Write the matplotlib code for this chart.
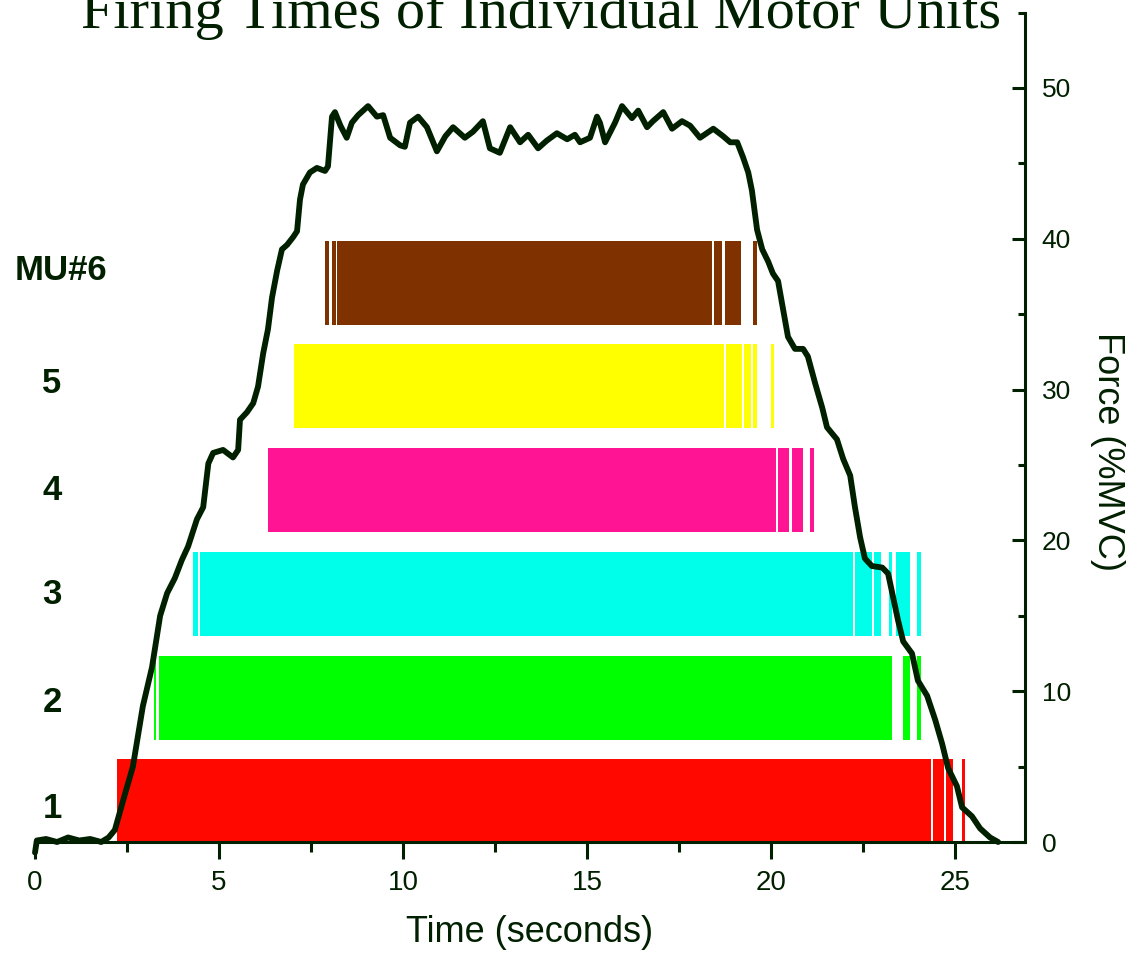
import matplotlib
matplotlib.use("Agg")
import matplotlib.pyplot as plt
from matplotlib.ticker import MultipleLocator
from matplotlib.transforms import blended_transform_factory

# ---------------- data ----------------
time_s = [
    0.0, 0.05, 0.3, 0.6, 0.9, 1.2, 1.5, 1.8, 2.0, 2.17,
    2.4, 2.66, 2.93, 3.18, 3.40, 3.59, 3.80, 3.99, 4.16, 4.40,
    4.57, 4.71, 4.84, 5.11, 5.38, 5.52, 5.57, 5.76, 5.93, 6.06,
    6.20, 6.33, 6.44, 6.58, 6.71, 6.85, 7.01, 7.12, 7.20, 7.28,
    7.47, 7.66, 7.88, 7.96, 8.07, 8.15, 8.30, 8.47, 8.61, 8.78,
    9.05, 9.29, 9.46, 9.65, 9.92, 10.05, 10.19, 10.41, 10.65, 10.92,
    11.15, 11.36, 11.68, 11.90, 12.17, 12.36, 12.63, 12.91, 13.18, 13.40,
    13.67, 13.90, 14.18, 14.46, 14.67, 14.81, 15.08, 15.27, 15.35, 15.49,
    15.76, 15.95, 16.22, 16.39, 16.63, 16.79, 17.07, 17.31, 17.58, 17.80,
    18.07, 18.43, 18.70, 18.89, 19.08, 19.24, 19.38, 19.48, 19.62, 19.76,
    19.92, 20.05, 20.19, 20.33, 20.46, 20.65, 20.87, 21.00, 21.20, 21.39,
    21.52, 21.79, 21.96, 22.15, 22.28, 22.42, 22.55, 22.74, 23.02, 23.18,
    23.32, 23.45, 23.59, 23.83, 23.99, 24.24, 24.46, 24.65, 24.81, 25.05,
    25.19, 25.46, 25.68, 25.95, 26.17,
]
force_mvc = [
    -0.7, 0.1, 0.2, 0.0, 0.3, 0.1, 0.2, 0.0, 0.3, 0.8,
    2.8, 5.0, 9.0, 11.6, 15.0, 16.5, 17.5, 18.7, 19.6, 21.4,
    22.2, 25.1, 25.8, 26.0, 25.5, 26.0, 28.0, 28.5, 29.1, 30.2,
    32.4, 34.0, 36.1, 37.9, 39.3, 39.6, 40.1, 40.5, 42.6, 43.6,
    44.4, 44.7, 44.5, 44.8, 48.1, 48.4, 47.5, 46.7, 47.7, 48.2,
    48.8, 48.1, 48.2, 46.7, 46.2, 46.1, 47.7, 48.1, 47.4, 45.8,
    46.8, 47.4, 46.7, 47.1, 47.8, 46.0, 45.7, 47.4, 46.4, 46.9,
    46.0, 46.5, 47.0, 46.6, 46.9, 46.4, 46.7, 48.1, 47.7, 46.4,
    47.7, 48.8, 48.0, 48.5, 47.4, 47.8, 48.4, 47.3, 47.8, 47.5,
    46.7, 47.3, 46.8, 46.4, 46.4, 45.4, 44.4, 43.2, 40.6, 39.3,
    38.5, 37.7, 37.2, 35.3, 33.5, 32.7, 32.7, 32.2, 30.4, 28.8,
    27.5, 26.7, 25.4, 24.3, 22.2, 20.2, 18.8, 18.3, 18.2, 17.8,
    16.2, 14.7, 13.3, 12.5, 10.7, 9.7, 8.1, 6.5, 4.9, 3.7,
    2.3, 1.7, 0.9, 0.3, 0.0,
]

mu_labels = ["1", "2", "3", "4", "5", "MU#6"]
mu_colors = ["#ff0800", "#00ff00", "#00ffea", "#ff1493", "#ffff00", "#7f3200"]

# firing periods (start, end) in seconds
mu1_firing = [(2.23, 24.35), (24.40, 24.70), (24.76, 24.95), (25.19, 25.27)]
mu2_firing = [(3.23, 3.30), (3.37, 23.29), (23.59, 23.78), (23.97, 24.08)]
mu3_firing = [(4.29, 4.43), (4.48, 22.23), (22.28, 22.74), (22.80, 22.99),
              (23.21, 23.29), (23.40, 23.78), (23.97, 24.08)]
mu4_firing = [(6.33, 20.14), (20.19, 20.49), (20.57, 20.87), (21.06, 21.17)]
mu5_firing = [(7.04, 18.72), (18.78, 19.21), (19.27, 19.46), (19.51, 19.62),
              (20.00, 20.08)]
mu6_firing = [(7.88, 7.99), (8.07, 8.18), (8.21, 18.40), (18.45, 18.67),
              (18.75, 19.18), (19.51, 19.62)]
mu_firing = [mu1_firing, mu2_firing, mu3_firing, mu4_firing, mu5_firing, mu6_firing]

# ---------------- style ----------------
DARK = "#002000"
FONT = "Liberation Sans"
W, H = 1128, 957

fig = plt.figure(figsize=(W / 100, H / 100), dpi=100)
fig.patch.set_facecolor("white")

force_max = 55.0
px_per_force = 15.08
ax_h_px = force_max * px_per_force
ax = fig.add_axes([35 / W, 1 - 842 / H, 990 / W, ax_h_px / H])
ax.set_xlim(0, 26.9)

# unit-row axis: row i centred at force 2.7 + 6.88*(i-1)
row_force0, row_step = 2.7, 6.88
ax.set_ylim(1 - row_force0 / row_step, 1 + (force_max - row_force0) / row_step)

bar_h = 0.81
for i, (segs, col) in enumerate(zip(mu_firing, mu_colors)):
    row = i + 1
    ax.broken_barh([(s, e - s) for s, e in segs], (row - bar_h / 2, bar_h),
                   facecolors=col, edgecolor="none", zorder=2)

# row labels
label_y = [0.935, 1.95, 2.99, 4.0, 5.03, 6.12]
trans = blended_transform_factory(ax.transAxes, ax.transData)
for lab, y in zip(mu_labels, label_y):
    xpos = 0.0263 if len(lab) > 1 else 0.0172
    ax.text(xpos, y, lab, transform=trans, ha="center", va="center",
            fontsize=25, fontweight="bold", family=FONT, color=DARK, clip_on=False)

# force axis (right)
axf = ax.twinx()
axf.set_ylim(0, force_max)
axf.plot(time_s, force_mvc, color=DARK, lw=4.2, solid_joinstyle="round",
         solid_capstyle="round", clip_on=False, zorder=3)

# x axis styling (after twinx, which re-enables left ticks)
for side in ("left", "top", "right"):
    ax.spines[side].set_visible(False)
ax.spines["bottom"].set_linewidth(2.2)
ax.spines["bottom"].set_color(DARK)
ax.set_yticks([])
ax.tick_params(axis="y", which="both", left=False, right=False,
               labelleft=False, labelright=False)
ax.xaxis.set_major_locator(MultipleLocator(5))
ax.xaxis.set_minor_locator(MultipleLocator(2.5))
ax.tick_params(axis="x", which="major", direction="out", length=12, width=2.2,
               color=DARK, labelcolor=DARK, labelsize=20, pad=8)
ax.tick_params(axis="x", which="minor", direction="out", length=7, width=2.2, color=DARK)
for lbl in ax.get_xticklabels():
    lbl.set_family(FONT)
ax.set_xlabel("Time (seconds)", fontsize=26, family=FONT, color=DARK)
ax.xaxis.set_label_coords(0.5, -0.088)

for side in ("left", "top", "bottom"):
    axf.spines[side].set_visible(False)
axf.spines["right"].set_linewidth(2.2)
axf.spines["right"].set_color(DARK)
axf.yaxis.set_major_locator(MultipleLocator(10))
axf.yaxis.set_minor_locator(MultipleLocator(5))
axf.tick_params(axis="y", which="major", direction="in", length=9.5, width=2.2,
                color=DARK, labelcolor=DARK, labelsize=19, pad=12)
axf.tick_params(axis="y", which="minor", direction="in", length=5, width=2.2, color=DARK)
for lbl in axf.get_yticklabels():
    lbl.set_family(FONT)
axf.set_ylabel("Force (%MVC)", rotation=270, fontsize=26, family=FONT, color=DARK,
               ha="center", va="center")
axf.yaxis.set_label_coords(1.083, 0.471)

fig.text(541.5 / W, 1 - 27.5 / H, "Firing Times of Individual Motor Units",
         fontsize=42, family="Liberation Serif", color=DARK, ha="center", va="baseline")

fig.savefig("out.png", dpi=100, facecolor="white")
